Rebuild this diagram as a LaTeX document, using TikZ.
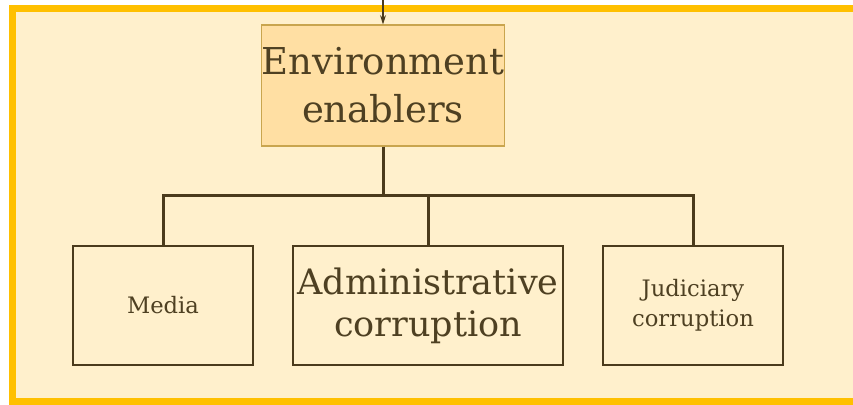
\documentclass[tikz,border=0pt]{standalone}
\usepackage{fontspec}
\setmainfont{DejaVu Serif}
\usetikzlibrary{arrows.meta}
\definecolor{bgcream}{HTML}{FFF0CC}
\definecolor{frameyel}{HTML}{FFC000}
\definecolor{envfill}{HTML}{FFDFA3}
\definecolor{envedge}{HTML}{C9A54E}
\definecolor{inkbrown}{HTML}{4B3B1C}
\definecolor{txtbrown}{HTML}{4E4022}
\tikzset{
  envbox/.style={draw=envedge, line width=0.9pt, fill=envfill, inner sep=0pt,
    minimum width=180pt, minimum height=90.75pt, align=center, text=txtbrown,
    font=\fontsize{27.75}{36}\selectfont},
  leafbox/.style={draw=inkbrown, line width=1.5pt, fill=bgcream, inner sep=0pt,
    minimum height=89.25pt, align=center, text=txtbrown},
  smalltxt/.style={font=\fontsize{17}{22.5}\selectfont},
  bigtxt/.style={font=\fontsize{26.25}{31.5}\selectfont},
  link/.style={draw=inkbrown, line width=2.25pt},
  feed/.style={draw=inkbrown, line width=0.8pt, -{Stealth[length=7pt,width=4.5pt]}}
}
\begin{document}
\begin{tikzpicture}[x=0.75pt,y=-0.75pt]
\useasboundingbox (0,0) rectangle (853,404);
\fill[white] (0,0) rectangle (853,404);
\begin{scope}
\clip (0,0) rectangle (853,404);
\draw[frameyel, line width=5.25pt, fill=bgcream] (12,8.5) rectangle (880,401);
\end{scope}
\node[envbox] (env) at (383,85.5) {Environment\\enablers};
\node[leafbox, smalltxt, minimum width=135pt] (media) at (163,305.5) {Media};
\node[leafbox, bigtxt, minimum width=202.5pt] (admin) at (428,305.5) {Administrative\\corruption};
\node[leafbox, smalltxt, minimum width=135pt] (jud) at (693,305.5) {Judiciary\\corruption};
\coordinate (top) at (383,0);
\coordinate (bus) at (383,195);
\draw[feed] (top) -- (env.north);
\draw[link] (env.south) -- (bus);
\draw[link, line cap=rect] (bus) -| (media.north);
\draw[link] (bus) -| (jud.north);
\draw[link] (admin.north |- bus) -- (admin.north);
\end{tikzpicture}
\end{document}
